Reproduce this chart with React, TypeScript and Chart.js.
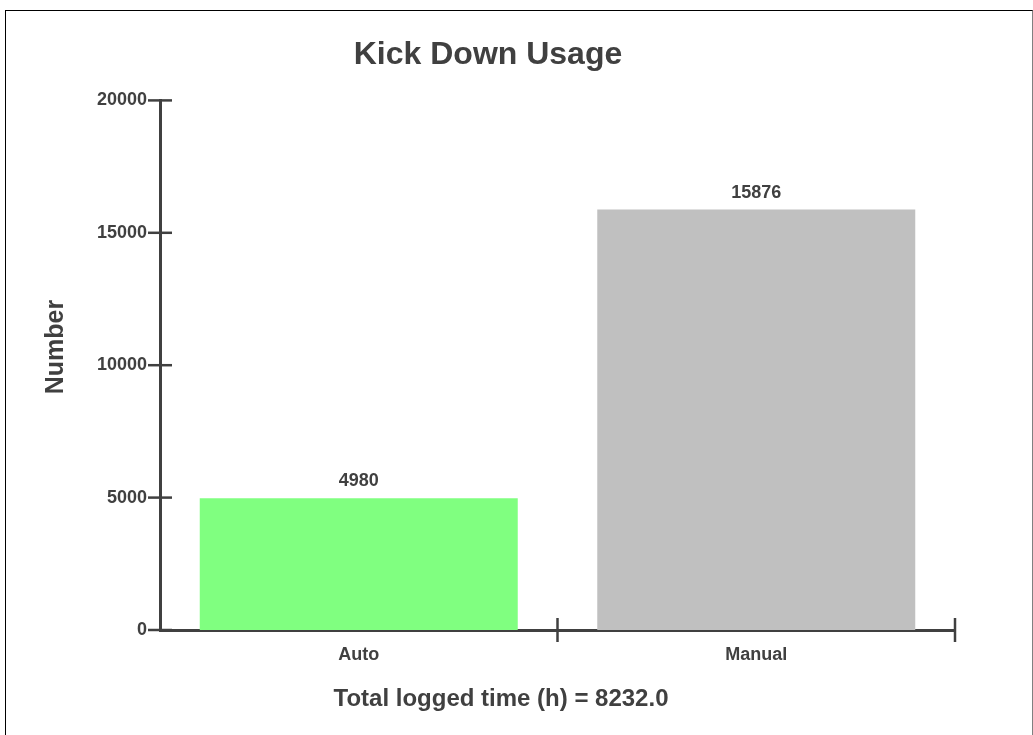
import React, { useEffect, useRef } from "react";
import { Chart, registerables } from "chart.js";

Chart.register(...registerables);

const categories: string[] = ["Auto", "Manual"];
const values: number[] = [4980, 15876];
const barColors: string[] = ["#80FF80", "#C0C0C0"];
const yTickValues: number[] = [0, 5000, 10000, 15000, 20000];
const chartTitle = "Kick Down Usage";
const yAxisTitle = "Number";
const bottomLabel = "Total logged time (h) = 8232.0";

const FONT = '"Liberation Sans", Arial, Helvetica, sans-serif';
const INK = "#404040";

const decorPlugin = {
  id: "decor",
  afterDraw(chart: any) {
    const ctx = chart.ctx;
    const xs = chart.scales.x;
    const ys = chart.scales.y;
    const area = chart.chartArea;
    ctx.save();
    ctx.strokeStyle = INK;
    ctx.lineWidth = 2.5;
    // y ticks crossing the axis
    ys.ticks.forEach((t: any) => {
      const py = ys.getPixelForValue(t.value);
      ctx.beginPath();
      ctx.moveTo(area.left - 12, py);
      ctx.lineTo(area.left + 12, py);
      ctx.stroke();
    });
    // x ticks at category boundaries
    const n = categories.length;
    for (let i = 1; i <= n; i++) {
      const px = xs.left + (i * (xs.right - xs.left)) / n;
      ctx.beginPath();
      ctx.moveTo(px, area.bottom - 12);
      ctx.lineTo(px, area.bottom + 12);
      ctx.stroke();
    }
    // value labels
    ctx.fillStyle = INK;
    ctx.font = "bold 18px " + FONT;
    ctx.textAlign = "center";
    ctx.textBaseline = "alphabetic";
    const meta = chart.getDatasetMeta(0);
    meta.data.forEach((el: any, i: number) => {
      ctx.fillText(String(values[i]), el.x, el.y - 12);
    });
    // y axis title
    ctx.save();
    ctx.translate(56, 347);
    ctx.rotate(-Math.PI / 2);
    ctx.font = "bold 25px " + FONT;
    ctx.textAlign = "center";
    ctx.textBaseline = "middle";
    ctx.fillText(yAxisTitle, 0, 0);
    ctx.restore();
    // bottom label
    ctx.font = "bold 24px " + FONT;
    ctx.textAlign = "center";
    ctx.textBaseline = "middle";
    ctx.fillText(bottomLabel, 501, 699);
    ctx.restore();
  },
};

export default function App() {
  const ref = useRef<HTMLCanvasElement | null>(null);
  useEffect(() => {
    if (!ref.current) return;
    const chart = new Chart(ref.current, {
      type: "bar",
      data: {
        labels: categories,
        datasets: [
          {
            data: values,
            backgroundColor: barColors,
            borderWidth: 0,
            categoryPercentage: 1.0,
            barPercentage: 0.8,
          },
        ],
      },
      options: {
        animation: false,
        responsive: true,
        maintainAspectRatio: false,
        layout: { padding: { left: 21, right: 78, top: 0, bottom: 0 } },
        plugins: {
          legend: { display: false },
          tooltip: { enabled: false },
          title: {
            display: true,
            text: chartTitle,
            color: INK,
            font: { family: FONT, size: 32, weight: "bold", lineHeight: 1.2 },
            padding: { top: 36, bottom: 26 },
          },
        },
        scales: {
          x: {
            offset: true,
            grid: { display: false, drawTicks: false },
            border: { display: true, color: INK, width: 3 },
            ticks: {
              color: INK,
              font: { family: FONT, size: 18, weight: "bold" },
              padding: 14,
            },
            afterFit: (scale: any) => {
              scale.height = 105;
            },
          },
          y: {
            min: 0,
            max: 20000,
            grid: { display: false, drawTicks: false },
            border: { display: true, color: INK, width: 3 },
            afterBuildTicks: (scale: any) => {
              scale.ticks = yTickValues.map((v) => ({ value: v }));
            },
            ticks: {
              color: INK,
              font: { family: FONT, size: 18, weight: "bold" },
              padding: 13,
              callback: (v: any) => String(v),
            },
            afterFit: (scale: any) => {
              scale.width = 139;
            },
          },
        },
      },
      plugins: [decorPlugin],
    });
    return () => chart.destroy();
  }, []);

  return (
    <div
      style={{
        position: "absolute",
        left: 0,
        top: 0,
        width: 1033,
        height: 735,
        overflow: "hidden",
        background: "#ffffff",
      }}
    >
      <div
        style={{
          position: "absolute",
          left: 5,
          top: 10,
          width: 1026,
          height: 800,
          borderLeft: "1px solid #000000",
          borderTop: "1px solid #000000",
          borderRight: "1px solid #808080",
        }}
      />
      <canvas
        ref={ref}
        style={{ position: "absolute", left: 0, top: 0, width: 1033, height: 735 }}
      />
    </div>
  );
}
